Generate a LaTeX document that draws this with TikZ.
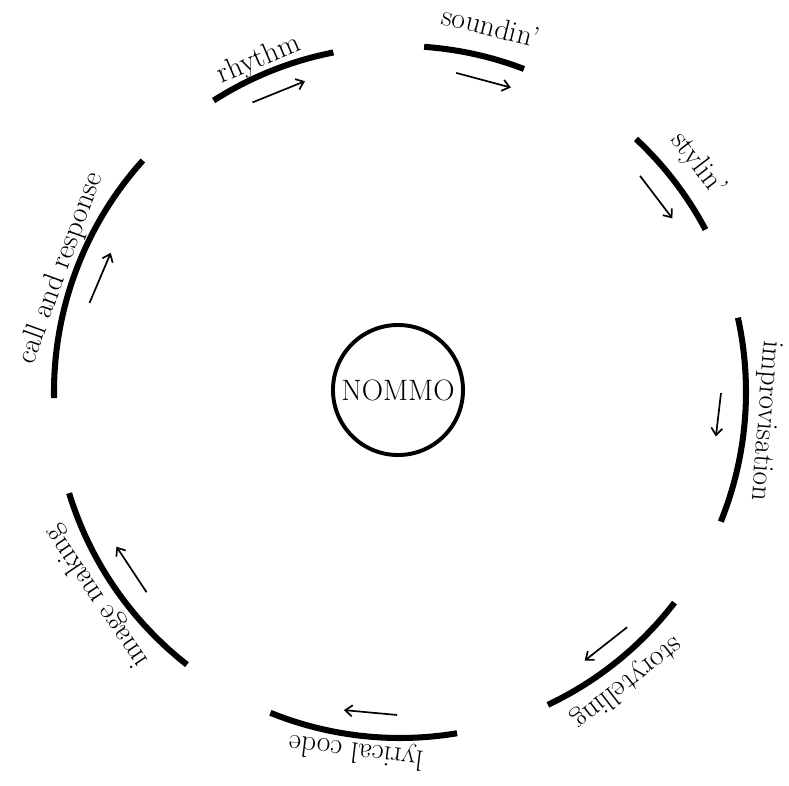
\documentclass[tikz,border=0pt]{standalone}
\usepackage{fontspec}
\usepackage{tikz}
\usetikzlibrary{arrows.meta}

\begin{document}
\begin{tikzpicture}[
    x=0.025cm, y=0.025cm,
    every node/.style={align=center, font=\fontsize{21}{25}\selectfont},
    ring/.style={line width=4.3pt},
    flow/.style={line width=1.2pt, -{Straight Barb[length=5pt, width=8pt]}},
    hub/.style={draw, circle, line width=2.8pt, minimum size=3.25cm, inner sep=0pt}
  ]
    \useasboundingbox (-400,-393) rectangle (389,392);
    \node[hub] (nommo) at (-2,2) {NOMMO};
    % rhythm
    \draw[ring] (122.6:346) arc[start angle=122.6, end angle=101.1, radius=346];
    \draw[flow] (117:325) -- (107:325);
    \node[rotate=23] (rhythm) at (113:361) {rhythm};
    % soundin'
    \draw[ring] (86:346) arc[start angle=86, end angle=69, radius=346];
    \draw[flow] (80:324) -- (70:324);
    \node[rotate=-14] (soundin) at (76:377) {soundin'};
    % stylin'
    \draw[ring] (47:346) arc[start angle=47, end angle=28, radius=346];
    \draw[flow] (42:323) -- (32.5:323);
    \node[rotate=-52.6] (stylin) at (37.4:375) {stylin'};
    % improvisation
    \draw[ring] (12.4:346) arc[start angle=12.4, end angle=-22, radius=346];
    \draw[flow] (-0.2:321) -- (-8:319);
    \node[rotate=-94.5] (improv) at (-4.5:366) {improvisation};
    % storytelling
    \draw[ring] (-37.5:346) arc[start angle=-37.5, end angle=-64.7, radius=346];
    \draw[flow] (-46:327) -- (-55.5:326);
    \node[rotate=-142] (story) at (-52:369) {storytelling};
    % lyrical code
    \draw[ring] (-80.5:346) arc[start angle=-80.5, end angle=-112, radius=346];
    \draw[flow] (-90.5:323) -- (-100:323);
    \node[rotate=-187] (lyrical) at (-97:361) {lyrical code};
    % image making
    \draw[ring] (232:346) arc[start angle=232, end angle=197, radius=346];
    \draw[flow] (218.3:323) -- (208.6:323);
    \node[rotate=124] (image) at (214:366) {image making};
    % call and response
    \draw[ring] (181:346) arc[start angle=181, end angle=138, radius=346];
    \draw[flow] (164:323) -- (154.3:321);
    \node[rotate=70] (call) at (160:361) {call and response};
  \end{tikzpicture}
\end{document}
